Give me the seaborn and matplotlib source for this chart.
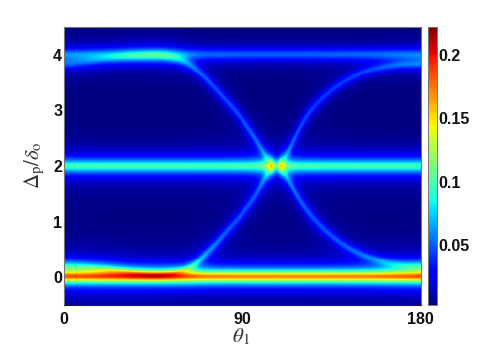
import numpy as np
import pandas as pd
import matplotlib
matplotlib.use("Agg")
import matplotlib.pyplot as plt
import seaborn as sns

# ridges: theta node, centre, peak height, half width
theta_nodes = [0, 10, 22, 35, 45, 52, 60, 66, 72, 77, 82, 89, 97, 105, 107.5, 110, 116, 122.5, 127, 132.5, 143, 153, 163, 172, 180]
falling_pos = [3.85, 3.89, 3.95, 3.99, 4.0, 3.99, 3.92, 3.78, 3.57, 3.38, 3.18, 2.9, 2.5, 2.0, 2.0, 2.0, 1.56, 1.2, 1.02, 0.815, 0.545, 0.365, 0.245, 0.2, 0.185]
falling_amp = [0.04, 0.04, 0.042, 0.052, 0.058, 0.058, 0.054, 0.048, 0.046, 0.044, 0.044, 0.044, 0.046, 0.042, 0.0, 0.042, 0.046, 0.046, 0.044, 0.044, 0.044, 0.044, 0.046, 0.05, 0.055]
falling_wid = [0.11, 0.105, 0.1, 0.1, 0.1, 0.1, 0.095, 0.095, 0.095, 0.1, 0.105, 0.11, 0.115, 0.115, 0.115, 0.115, 0.11, 0.11, 0.105, 0.095, 0.085, 0.08, 0.085, 0.09, 0.1]

rising_pos = [0.185, 0.17, 0.12, 0.06, 0.03, 0.04, 0.09, 0.2, 0.43, 0.6, 0.82, 1.09, 1.45, 2.0, 2.0, 2.0, 2.47, 2.92, 3.1, 3.3, 3.55, 3.72, 3.8, 3.84, 3.85]
rising_amp = [0.055, 0.055, 0.06, 0.052, 0.05, 0.05, 0.05, 0.06, 0.054, 0.05, 0.046, 0.044, 0.044, 0.042, 0.0, 0.042, 0.044, 0.042, 0.04, 0.04, 0.04, 0.04, 0.042, 0.044, 0.046]
rising_wid = [0.1, 0.1, 0.09, 0.08, 0.07, 0.07, 0.075, 0.085, 0.095, 0.1, 0.105, 0.11, 0.115, 0.115, 0.115, 0.115, 0.11, 0.11, 0.105, 0.095, 0.085, 0.08, 0.08, 0.085, 0.09]

# flat lines: centre, peak height, half width
flat_pos = [0.0, 2.0, 4.02]
flat_amp = [0.17, 0.098, 0.05]
flat_wid = [0.11, 0.13, 0.105]

x_ticks = [0, 90, 180]
y_ticks = [0, 1, 2, 3, 4]
bar_ticks = [0.05, 0.1, 0.15, 0.2]
bar_labels = ["0.05", "0.1", "0.15", "0.2"]
v_min, v_max = 0.0028, 0.2217
y_min, y_max = -0.5, 4.5

theta = np.linspace(0, 180, 361)
delta = np.linspace(y_min, y_max, 281)


def smooth(v, n):
    k = np.hanning(2 * n + 1)
    k = k / k.sum()
    pad = np.pad(v, n, mode="edge")
    return np.convolve(pad, k, mode="valid")


def ridge(pos, amp, wid):
    p = smooth(np.interp(theta, theta_nodes, pos), 12)[None, :]
    a = smooth(np.interp(theta, theta_nodes, amp), 3)[None, :]
    w = smooth(np.interp(theta, theta_nodes, wid), 5)[None, :]
    d = delta[:, None]
    return a / (1 + ((d - p) / w) ** 2)


field = np.zeros((len(delta), len(theta)))
field += ridge(falling_pos, falling_amp, falling_wid)
field += ridge(rising_pos, rising_amp, rising_wid)
for p, a, w in zip(flat_pos, flat_amp, flat_wid):
    field += a / (1 + ((delta[:, None] - p) / w) ** 2)

df = pd.DataFrame(field, index=delta, columns=theta)

sns.set_theme(style="white")
plt.rcParams["font.family"] = ["Liberation Sans", "DejaVu Sans"]
plt.rcParams["mathtext.fontset"] = "stix"

W, H = 491, 354
fig = plt.figure(figsize=(W / 100, H / 100), dpi=100)
ax = fig.add_axes([63.5 / W, 1 - 305 / H, 357 / W, 278 / H])
cax = fig.add_axes([428 / W, 1 - 305 / H, 9 / W, 278 / H])

sns.heatmap(df, ax=ax, cbar_ax=cax, cmap="jet", vmin=v_min, vmax=v_max,
            xticklabels=False, yticklabels=False, rasterized=True)
ax.invert_yaxis()

# heatmap axes run in cell numbers, so map the values onto them
ax.set_xticks([t / 180 * len(theta) for t in x_ticks])
ax.set_xticklabels([str(t) for t in x_ticks], rotation=0)
ax.set_yticks([(d - y_min) / (y_max - y_min) * len(delta) for d in y_ticks])
ax.set_yticklabels([str(d) for d in y_ticks], rotation=0)
ax.tick_params(axis="both", length=0, pad=1, labelsize=11.5, labelcolor="#111111")
for lab in ax.get_xticklabels() + ax.get_yticklabels():
    lab.set_fontweight("bold")
ax.tick_params(axis="x", pad=5)

for name, sp in ax.spines.items():
    sp.set_visible(True)
    sp.set_linewidth(0.8)
    sp.set_color("#222222" if name == "bottom" else "#777777")

ax.set_xlabel(r"$\theta_{\mathrm{1}}$", fontsize=15, color="#333333")
ax.xaxis.set_label_coords(0.497, -0.075)
ax.set_ylabel(r"$\Delta_{\mathrm{p}}/\delta_{\mathrm{o}}$", fontsize=15, color="#333333")
ax.yaxis.set_label_coords(-0.045, 0.505)

cax.set_yticks(bar_ticks)
cax.set_yticklabels(bar_labels)
cax.tick_params(axis="y", length=2, direction="in", right=True, pad=1, labelsize=11.5,
                labelcolor="#111111", color="#333333", width=0.6)
for lab in cax.get_yticklabels():
    lab.set_fontweight("bold")
for sp in cax.spines.values():
    sp.set_visible(True)
    sp.set_linewidth(0.6)
    sp.set_color("#777777")

fig.savefig("out.png", dpi=100)
